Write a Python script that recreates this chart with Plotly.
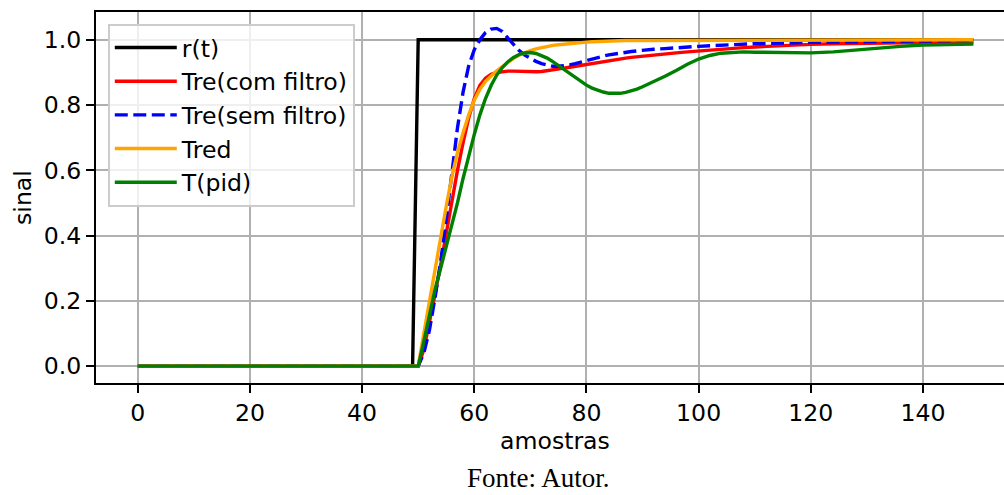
import plotly.graph_objects as go

# sample indices (amostras)
samples = [0, 49] + list(range(50, 91)) + [92, 94, 96, 98, 100, 102, 104, 106, 108, 110,
                                          113, 116, 120, 124, 128, 132, 136, 140, 145, 149]

r_t = [0, 0] + [1] * 61

tre_com = [0, 0,
           0, 0.05, 0.13, 0.22, 0.31, 0.41, 0.51, 0.60, 0.685, 0.76,
           0.82, 0.86, 0.882, 0.894, 0.90, 0.903, 0.904, 0.904, 0.903, 0.902,
           0.902, 0.902, 0.903, 0.905, 0.907, 0.910, 0.913, 0.916, 0.919, 0.922,
           0.925, 0.928, 0.931, 0.934, 0.937, 0.939, 0.942, 0.944, 0.946, 0.948,
           0.950,
           0.954, 0.957, 0.960, 0.963, 0.966, 0.969, 0.971, 0.974, 0.976, 0.978,
           0.981, 0.983, 0.986, 0.988, 0.989, 0.990, 0.991, 0.992, 0.993, 0.994]

tre_sem = [0, 0,
           0, 0.04, 0.11, 0.21, 0.32, 0.45, 0.60, 0.73, 0.84, 0.92,
           0.97, 1.0, 1.022, 1.033, 1.035, 1.025, 1.005, 0.985, 0.967, 0.953,
           0.943, 0.934, 0.927, 0.922, 0.919, 0.919, 0.920, 0.923, 0.927, 0.932,
           0.937, 0.942, 0.946, 0.950, 0.954, 0.957, 0.960, 0.962, 0.964, 0.966,
           0.968,
           0.971, 0.973, 0.976, 0.978, 0.980, 0.982, 0.984, 0.985, 0.986, 0.988,
           0.989, 0.991, 0.992, 0.993, 0.994, 0.995, 0.996, 0.997, 0.997, 0.998]

tred = [0, 0,
        0, 0.10, 0.20, 0.30, 0.39, 0.49, 0.58, 0.655, 0.715, 0.77,
        0.815, 0.848, 0.873, 0.89, 0.905, 0.918, 0.931, 0.943, 0.953, 0.961,
        0.967, 0.972, 0.976, 0.980, 0.983, 0.985, 0.987, 0.989, 0.991, 0.992,
        0.993, 0.994, 0.995, 0.996, 0.996, 0.997, 0.997, 0.998, 0.998, 0.998,
        0.999,
        0.999, 0.999, 0.999, 1.0, 1.0, 1.0, 1.0, 1.0, 1.0, 1.0,
        1.0, 1.0, 1.0, 1.0, 1.0, 1.0, 1.0, 1.0, 1.0, 1.0]

t_pid = [0, 0,
         0, 0.075, 0.16, 0.235, 0.30, 0.365, 0.43, 0.50, 0.575, 0.645,
         0.71, 0.77, 0.82, 0.86, 0.892, 0.915, 0.933, 0.946, 0.955, 0.96,
         0.961, 0.958, 0.952, 0.944, 0.933, 0.921, 0.908, 0.895, 0.882, 0.871,
         0.861, 0.852, 0.845, 0.840, 0.836, 0.835, 0.836, 0.839, 0.843, 0.849,
         0.856,
         0.871, 0.888, 0.906, 0.925, 0.941, 0.952, 0.959, 0.962, 0.963, 0.962,
         0.961, 0.960, 0.960, 0.963, 0.969, 0.975, 0.980, 0.984, 0.986, 0.987]

series = [
    ("r(t)", r_t, "#000000", "solid"),
    ("Tre(com filtro)", tre_com, "#ff0000", "solid"),
    ("Tre(sem filtro)", tre_sem, "#0000ff", "13px,5.5px"),
    ("Tred", tred, "#ffa500", "solid"),
    ("T(pid)", t_pid, "#008000", "solid"),
]

x_ticks = [0, 20, 40, 60, 80, 100, 120, 140]
y_ticks = [0.0, 0.2, 0.4, 0.6, 0.8, 1.0]

fig = go.Figure()
for i, (name, vals, color, dash) in enumerate(series):
    fig.add_trace(go.Scatter(
        x=samples, y=vals, mode="lines", name=name,
        line=dict(color=color, width=3.4, dash=dash),
    ))

font_family = "DejaVu Sans"
FS = 23.6
fig.update_layout(
    width=1004, height=495,
    margin=dict(l=96, r=0, t=12, b=112),
    paper_bgcolor="white", plot_bgcolor="white",
    font=dict(family=font_family, size=FS, color="black"),
    showlegend=True,
    legend=dict(
        x=0.0132, y=0.968, xanchor="left", yanchor="top",
        bgcolor="rgba(255,255,255,0.8)", bordercolor="#cccccc", borderwidth=1.8,
        font=dict(family=font_family, size=FS, color="black"),
        itemwidth=62,
    ),
    xaxis=dict(
        range=[-7.45, 154.45], tickvals=x_ticks, ticks="outside", ticklen=8, tickwidth=1.9,
        tickcolor="black", showline=True, linecolor="black", linewidth=1.9, mirror=True,
        showgrid=True, gridcolor="#b0b0b0", gridwidth=1.9, zeroline=False,
        tickfont=dict(family=font_family, size=FS),
    ),
    yaxis=dict(
        range=[-0.0517, 1.0852], tickvals=y_ticks, tickformat=".1f", ticks="outside",
        ticklen=8, tickwidth=1.9, tickcolor="black", showline=True, linecolor="black",
        linewidth=1.9, mirror=False, showgrid=True, gridcolor="#b0b0b0", gridwidth=1.9,
        zeroline=False, tickfont=dict(family=font_family, size=FS),
    ),
    annotations=[
        dict(text="amostras", xref="paper", yref="paper", x=0.5055, y=-0.155,
             xanchor="center", yanchor="middle", showarrow=False,
             font=dict(family=font_family, size=FS)),
        dict(text="sinal", xref="paper", yref="paper", x=-0.081, y=0.5,
             xanchor="center", yanchor="middle", textangle=-90, showarrow=False,
             font=dict(family=font_family, size=FS)),
        dict(text="Fonte: Autor.", xref="paper", yref="paper", x=0.487, y=-0.3,
             xanchor="center", yanchor="bottom", showarrow=False, borderpad=0,
             font=dict(family="Liberation Serif", size=27)),
    ],
)

fig.write_html("out.html")
